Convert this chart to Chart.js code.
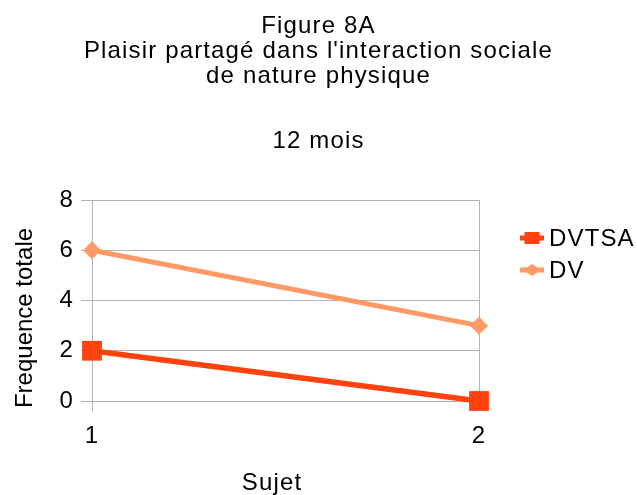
<!DOCTYPE html>
<html>
<head>
<meta charset="utf-8">
<script src="https://cdn.jsdelivr.net/npm/chart.js@4"></script>
<style>
  html, body { margin: 0; padding: 0; background: #fff; }
  #wrap { width: 637px; height: 495px; }
</style>
</head>
<body>
<div id="wrap"><canvas id="c"></canvas></div>
<script>
const sujets = [1, 2];
const dvtsa = [2, 0];
const dv = [6, 3];
const yTicks = [0, 2, 4, 6, 8];

const COLOR_DVTSA = '#ff420e';
const COLOR_DV = '#ff9966';
const COLOR_GRID = '#b3b3b3';
const FONT = "'Liberation Sans', Arial, sans-serif";
// le texte horizontal de l'original est un peu "étiré"
const SPACING = '1.15px';

// Espacement des lettres pour tout le texte horizontal
const spacingPlugin = {
  id: 'spacing',
  beforeLayout(chart) { chart.ctx.letterSpacing = SPACING; },
  beforeDraw(chart) { chart.ctx.letterSpacing = SPACING; },
};

// Titres des axes, placés comme dans l'original
const axisTitles = {
  id: 'axisTitles',
  afterDraw(chart) {
    const { ctx } = chart;
    ctx.save();
    ctx.fillStyle = '#000';
    ctx.font = `24px ${FONT}`;
    ctx.textAlign = 'center';
    ctx.textBaseline = 'alphabetic';
    ctx.letterSpacing = SPACING;
    ctx.fillText('Sujet', 272, 490);
    ctx.letterSpacing = '0px';
    ctx.translate(32, 318);
    ctx.rotate(-Math.PI / 2);
    ctx.fillText('Frequence totale', 0, 0);
    ctx.restore();
  },
};

// Légende maison : trait + marqueur, comme dans l'original
const lineLegend = {
  id: 'lineLegend',
  afterDraw(chart) {
    const { ctx } = chart;
    const x0 = 520, x1 = 544, tx = 549;
    const rows = [238, 270];
    const h = Chart.helpers;
    ctx.save();
    chart.data.datasets.forEach((ds, i) => {
      const y = rows[i];
      const cx = (x0 + x1) / 2;
      ctx.strokeStyle = ds.borderColor;
      ctx.lineWidth = 5;
      ctx.beginPath();
      ctx.moveTo(x0, y);
      ctx.lineTo(x1, y);
      ctx.stroke();
      ctx.fillStyle = ds.borderColor;
      const opts = { pointStyle: ds.pointStyle, radius: ds.legendRadius, borderWidth: 0 };
      if (h.drawPointLegend) h.drawPointLegend(ctx, opts, cx, y, ds.legendWidth);
      else h.drawPoint(ctx, opts, cx, y);
      ctx.fillStyle = '#000';
      ctx.font = `24px ${FONT}`;
      ctx.letterSpacing = SPACING;
      ctx.textAlign = 'left';
      ctx.textBaseline = 'middle';
      ctx.fillText(ds.label, tx, y + 1);
    });
    ctx.restore();
  },
};

new Chart(document.getElementById('c'), {
  type: 'line',
  data: {
    datasets: [
      {
        label: 'DVTSA',
        data: sujets.map((s, i) => ({ x: s, y: dvtsa[i] })),
        borderColor: COLOR_DVTSA,
        backgroundColor: COLOR_DVTSA,
        borderWidth: 5.5,
        pointStyle: 'rect',
        pointRadius: 14,
        pointBorderWidth: 0,
        clip: false,
        legendRadius: 8.5,
        legendWidth: 15,
      },
      {
        label: 'DV',
        data: sujets.map((s, i) => ({ x: s, y: dv[i] })),
        borderColor: COLOR_DV,
        backgroundColor: COLOR_DV,
        borderWidth: 5,
        pointStyle: 'rectRot',
        pointRadius: 9,
        pointBorderWidth: 0,
        clip: false,
        legendRadius: 6,
        legendWidth: 18,
      },
    ],
  },
  options: {
    responsive: true,
    maintainAspectRatio: false,
    animation: false,
    layout: { padding: 0 },
    plugins: {
      legend: { display: false },
      tooltip: { enabled: false },
      title: {
        display: true,
        text: ['Figure 8A', "Plaisir partagé dans l'interaction sociale", 'de nature physique'],
        color: '#000',
        font: { family: FONT, size: 24, weight: 'normal', lineHeight: 1.0417 },
        padding: { top: 14, bottom: 0 },
      },
      subtitle: {
        display: true,
        text: '12 mois',
        color: '#000',
        font: { family: FONT, size: 24, weight: 'normal', lineHeight: 1.0417 },
        padding: { top: 40, bottom: 46 },
      },
    },
    scales: {
      x: {
        type: 'linear',
        min: 1,
        max: 2,
        ticks: { stepSize: 1, color: '#000', font: { family: FONT, size: 24 }, padding: 11 },
        grid: { color: COLOR_GRID, tickLength: 10 },
        border: { color: COLOR_GRID },
        afterFit: (s) => { s.height = 94; },
      },
      y: {
        type: 'linear',
        min: yTicks[0],
        max: yTicks[yTicks.length - 1],
        afterBuildTicks: (s) => { s.ticks = yTicks.map((v) => ({ value: v })); },
        ticks: { color: '#000', font: { family: FONT, size: 24 }, padding: 7 },
        grid: { color: COLOR_GRID, tickLength: 11 },
        border: { color: COLOR_GRID },
        afterFit: (s) => { s.width = 92; },
      },
      // axe vide à droite : réserve la place de la légende
      legendSpace: {
        type: 'linear',
        position: 'right',
        display: true,
        grid: { display: false },
        border: { display: false },
        ticks: { display: false },
        afterFit: (s) => { s.width = 158; },
      },
    },
  },
  plugins: [spacingPlugin, axisTitles, lineLegend],
});
</script>
</body>
</html>
